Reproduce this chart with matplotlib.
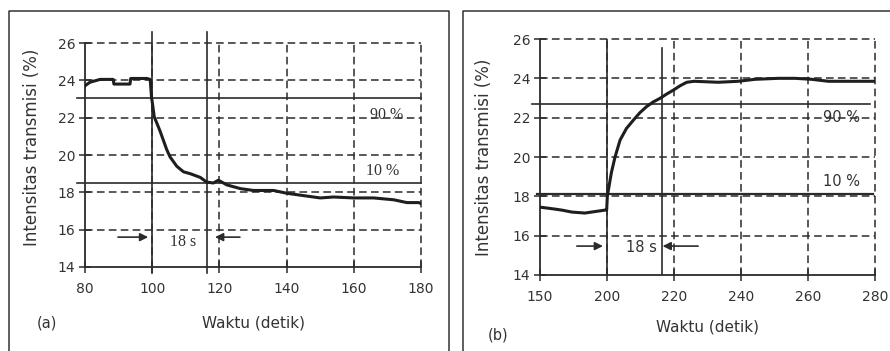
import matplotlib
matplotlib.use("Agg")
import matplotlib.pyplot as plt
from matplotlib.lines import Line2D

plt.rcParams['font.family'] = ['DejaVu Sans']

# ---- data -------------------------------------------------------------
# (a) transmission drop
a_time = [80, 80.3, 81.5, 84.5, 88.4, 88.6, 93.4, 93.6, 98.4, 99.4, 99.8, 100.2,
          100.6, 102.3, 104.3, 105.3, 107.3, 109.3, 111.3, 114.3, 116.2, 118.2,
          119.7, 122.2, 126.2, 130.1, 136.1, 140.1, 144.0, 150, 154, 159.9,
          165.9, 171.9, 175.8, 179.3, 180]
a_intensity = [23.7, 23.75, 23.9, 24.05, 24.05, 23.8, 23.8, 24.1, 24.1, 24.05,
               23.1, 22.6, 22.05, 21.3, 20.3, 19.9, 19.4, 19.1, 19.0, 18.8, 18.55,
               18.5, 18.65, 18.4, 18.2, 18.1, 18.1, 17.95, 17.85, 17.7, 17.75,
               17.7, 17.7, 17.6, 17.45, 17.45, 17.4]

# (b) transmission rise
b_time = [180, 184.5, 186.5, 189.5, 193.4, 195.4, 199.4, 199.9, 200.1, 201.3,
          202.4, 203.9, 205.8, 207.9, 209.8, 211.8, 213.8, 215.8, 217.8, 219.8,
          221.8, 223.8, 226.0, 233.2, 239.2, 244.2, 251.1, 256.1, 261.1, 266.1,
          271.0, 280]
b_intensity = [17.45, 17.35, 17.3, 17.2, 17.15, 17.2, 17.3, 17.3, 18.0, 19.2,
               20.0, 20.86, 21.45, 21.88, 22.25, 22.56, 22.8, 22.98, 23.2, 23.4,
               23.62, 23.8, 23.85, 23.8, 23.85, 23.95, 24.0, 24.0, 23.95, 23.85,
               23.85, 23.85]

a_xticks = [80, 100, 120, 140, 160, 180]
a_xlabels = ['80', '100', '120', '140', '160', '180']
b_xticks = [180, 200, 220, 240, 260, 280]
b_xlabels = ['150', '200', '220', '240', '260', '280']
yticks = [14, 16, 18, 20, 22, 24, 26]

a_level90, a_level10 = 23.05, 18.5
b_level90, b_level10 = 22.68, 18.1
a_marks = (100, 116.3)
b_marks = (200, 216.3)

# ---- figure ------------------------------------------------------------
W, H = 890, 351
fig = plt.figure(figsize=(W / 100, H / 100), dpi=100)
fig.patch.set_facecolor('white')

ink = '#2b2b2b'
txt = '#333333'
dash = (0, (5, 2.8))


def fx(px):
    return px / W


def fy(py):
    return 1 - py / H


# panel frames
for (l, r) in [(9, 449), (463, 895)]:
    fig.add_artist(Line2D([fx(l), fx(l), fx(r), fx(r)],
                          [fy(360), fy(11), fy(11), fy(360)],
                          color='#333333', lw=1.1, transform=fig.transFigure))


def style_axes(ax, xlim, xticks, xlabels):
    ax.set_xlim(*xlim)
    ax.set_ylim(14, 26)
    ax.set_facecolor('none')
    for s in ['top', 'right']:
        ax.spines[s].set_visible(False)
    for s in ['left', 'bottom']:
        ax.spines[s].set_color(ink)
        ax.spines[s].set_linewidth(1.3)
    ax.set_xticks(xticks)
    ax.set_xticklabels(xlabels)
    ax.set_yticks(yticks)
    ax.tick_params(direction='inout', length=8, width=1.1, color=ink,
                   labelsize=10, labelcolor=txt)
    ax.tick_params(axis='x', pad=7)
    ax.tick_params(axis='y', pad=3)
    for y in yticks[1:]:
        ax.axhline(y, color=ink, lw=1.1, ls=dash, zorder=1, clip_on=False)
    for x in xticks[1:]:
        ax.axvline(x, color=ink, lw=1.1, ls=dash, zorder=1, clip_on=False)
    ax.set_ylabel('Intensitas transmisi (%)', fontsize=12, color=txt)


# ---- panel (a) ---------------------------------------------------------
axa = fig.add_axes([fx(85), fy(267), fx(421 - 85), fy(43) - fy(267)])
style_axes(axa, (80, 180), a_xticks, a_xlabels)
axa.plot(a_time, a_intensity, color='#1e1e1e', lw=2.2, zorder=4)
for x in a_marks:
    axa.plot([x, x], [13.68, 26.6], color=ink, lw=1.2, clip_on=False, zorder=3)
for y in (a_level90, a_level10):
    axa.plot([77.6, 180], [y, y], color=ink, lw=1.2, clip_on=False, zorder=3)
axa.annotate('', xy=(98.8, 15.6), xytext=(89.8, 15.6),
             arrowprops=dict(arrowstyle='-|>', color=ink, lw=1.2,
                             mutation_scale=12, shrinkA=0, shrinkB=0))
axa.annotate('', xy=(118.7, 15.6), xytext=(126.1, 15.6),
             arrowprops=dict(arrowstyle='-|>', color=ink, lw=1.2,
                             mutation_scale=12, shrinkA=0, shrinkB=0))
axa.text(109.2, 15.35, '18 s', family='Liberation Serif', fontsize=11.5,
         ha='center', va='center', color=txt)
axa.text(169.9, 22.14, '90 %', family='Liberation Serif', fontsize=11.5,
         ha='center', va='center', color=txt)
axa.text(168.7, 19.14, '10 %', family='Liberation Serif', fontsize=11.5,
         ha='center', va='center', color=txt)
axa.yaxis.set_label_coords((41 - 85) / (421 - 85), 0.5 - (147 - 155) / 224)
fig.text(fx(253), fy(323), 'Waktu (detik)', fontsize=11, ha='center',
         va='center', color=txt)
fig.text(fx(47), fy(323), '(a)', fontsize=10.5, ha='center', va='center',
         color=txt)

# ---- panel (b) ---------------------------------------------------------
axb = fig.add_axes([fx(540), fy(275), fx(875 - 540), fy(39) - fy(275)])
style_axes(axb, (180, 280), b_xticks, b_xlabels)
axb.plot(b_time, b_intensity, color='#1e1e1e', lw=2.2, zorder=4)
axb.plot([b_marks[0]] * 2, [14, 26], color=ink, lw=1.2, zorder=3)
axb.plot([b_marks[1]] * 2, [14, 25.53], color=ink, lw=1.2, zorder=3)
axb.plot([177.6, 278.5], [b_level90] * 2, color=ink, lw=1.2, clip_on=False,
         zorder=3)
axb.plot([179.1, 279.4], [b_level10] * 2, color=ink, lw=1.6, clip_on=False,
         zorder=3)
axb.annotate('', xy=(198.8, 15.47), xytext=(191.0, 15.47),
             arrowprops=dict(arrowstyle='-|>', color=ink, lw=1.2,
                             mutation_scale=12, shrinkA=0, shrinkB=0))
axb.annotate('', xy=(216.6, 15.47), xytext=(227.2, 15.47),
             arrowprops=dict(arrowstyle='-|>', color=ink, lw=1.2,
                             mutation_scale=12, shrinkA=0, shrinkB=0))
axb.text(210.4, 15.4, '18 s', fontsize=10.5, ha='center', va='center',
         color=txt)
axb.text(270.1, 22.03, '90 %', fontsize=10.5, ha='center', va='center',
         color=txt)
axb.text(270.1, 18.73, '10 %', fontsize=10.5, ha='center', va='center',
         color=txt)
axb.yaxis.set_label_coords((493 - 540) / (875 - 540), 0.5)
fig.text(fx(708), fy(327), 'Waktu (detik)', fontsize=11, ha='center',
         va='center', color=txt)
fig.text(fx(498), fy(335), '(b)', fontsize=10.5, ha='center', va='center',
         color=txt)

fig.savefig('out.png', dpi=100)
